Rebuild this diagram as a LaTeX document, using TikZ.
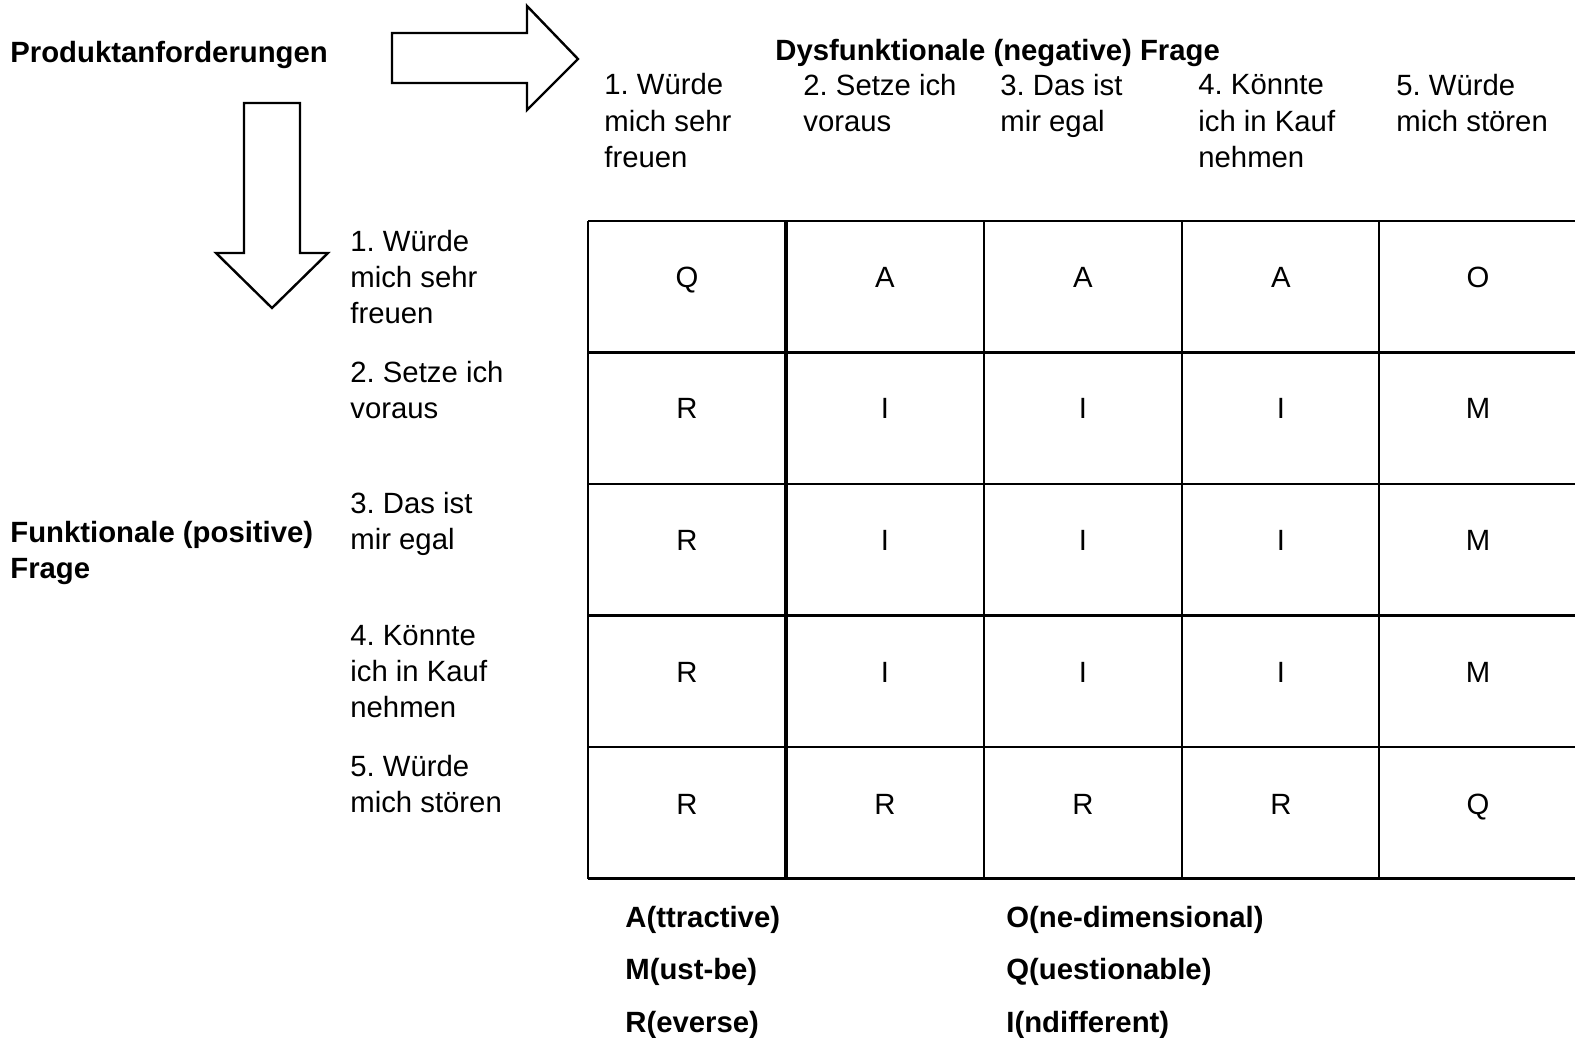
\documentclass[tikz,border=0pt]{standalone}
\usepackage{fontspec}
\setmainfont{Liberation Sans}
\frenchspacing
\tikzset{
  lbl/.style={anchor=base west, inner sep=0pt, align=left,
    font=\fontsize{14.65}{18.1}\selectfont},
  head/.style={lbl, font=\fontsize{14.65}{18.1}\selectfont\bfseries},
  cell/.style={anchor=base, inner sep=0pt,
    font=\fontsize{14.65}{18.1}\selectfont},
  gridline/.style={line width=1.3pt},
  blockarrow/.style={line width=1.2pt, line join=miter}
}
\begin{document}
\begin{tikzpicture}[x=0.5pt, y=-0.5pt]
      \useasboundingbox (0,0) rectangle (1575,1038);
      % titles (multi-line nodes sit on the baseline of their last line)
      \node[head] (prod) at (10,62.5) {Produktanforderungen};
      \node[head] (dys) at (775,60.5) {Dysfunktionale (negative) Frage};
      \node[head] (fun) at (10,578.7) {Funktionale (positive)\\Frage};
      % block arrows
      \draw[blockarrow] (392,33) -- (527,33) -- (527,6) -- (578,59)
        -- (527,110) -- (527,83) -- (392,83) -- cycle;
      \draw[blockarrow] (244,103) -- (300,103) -- (300,253) -- (328,253)
        -- (272,308) -- (216,253) -- (244,253) -- cycle;
      % column answers
      \node[lbl] (d1) at (604,167.4) {1. W\"urde\\mich sehr\\freuen};
      \node[lbl] (d2) at (803,131.2) {2. Setze ich\\voraus};
      \node[lbl] (d3) at (1000,131.2) {3. Das ist\\mir egal};
      \node[lbl] (d4) at (1198,167.4) {4. K\"onnte\\ich in Kauf\\nehmen};
      \node[lbl] (d5) at (1396,131.2) {5. W\"urde\\mich st\"oren};
      % row answers
      \node[lbl] (f1) at (350,323.9) {1. W\"urde\\mich sehr\\freuen};
      \node[lbl] (f2) at (350,418.7) {2. Setze ich\\voraus};
      \node[lbl] (f3) at (350,549.7) {3. Das ist\\mir egal};
      \node[lbl] (f4) at (350,717.9) {4. K\"onnte\\ich in Kauf\\nehmen};
      \node[lbl] (f5) at (350,812.7) {5. W\"urde\\mich st\"oren};
      % grid
      \begin{scope}[gridline]
        \draw (588,221) -- (1575,221);
        \draw (588,352.5) -- (1575,352.5);
        \draw (588,484) -- (1575,484);
        \draw (588,615.5) -- (1575,615.5);
        \draw (588,747) -- (1575,747);
        \draw (588,878.5) -- (1575,878.5);
        \draw (588,221) -- (588,878.5);
        \draw[line width=2pt] (786,221) -- (786,878.5);
        \draw (984,221) -- (984,878.5);
        \draw (1182,221) -- (1182,878.5);
        \draw (1379,221) -- (1379,878.5);
      \end{scope}
      % cells
      \node[cell] (c11) at (687,287) {Q};
      \node[cell] (c12) at (885,287) {A};
      \node[cell] (c13) at (1083,287) {A};
      \node[cell] (c14) at (1281,287) {A};
      \node[cell] (c15) at (1478,287) {O};
      \node[cell] (c21) at (687,418) {R};
      \node[cell] (c22) at (885,418) {I};
      \node[cell] (c23) at (1083,418) {I};
      \node[cell] (c24) at (1281,418) {I};
      \node[cell] (c25) at (1478,418) {M};
      \node[cell] (c31) at (687,550) {R};
      \node[cell] (c32) at (885,550) {I};
      \node[cell] (c33) at (1083,550) {I};
      \node[cell] (c34) at (1281,550) {I};
      \node[cell] (c35) at (1478,550) {M};
      \node[cell] (c41) at (687,682) {R};
      \node[cell] (c42) at (885,682) {I};
      \node[cell] (c43) at (1083,682) {I};
      \node[cell] (c44) at (1281,682) {I};
      \node[cell] (c45) at (1478,682) {M};
      \node[cell] (c51) at (687,814) {R};
      \node[cell] (c52) at (885,814) {R};
      \node[cell] (c53) at (1083,814) {R};
      \node[cell] (c54) at (1281,814) {R};
      \node[cell] (c55) at (1478,814) {Q};
      % legend
      \node[head] (la) at (625,927.5) {A(ttractive)};
      \node[head] (lm) at (625,979.5) {M(ust-be)};
      \node[head] (lr) at (625,1032) {R(everse)};
      \node[head] (lo) at (1006,927.5) {O(ne-dimensional)};
      \node[head] (lq) at (1006,979.5) {Q(uestionable)};
      \node[head] (li) at (1006,1032) {I(ndifferent)};
    \end{tikzpicture}
\end{document}
